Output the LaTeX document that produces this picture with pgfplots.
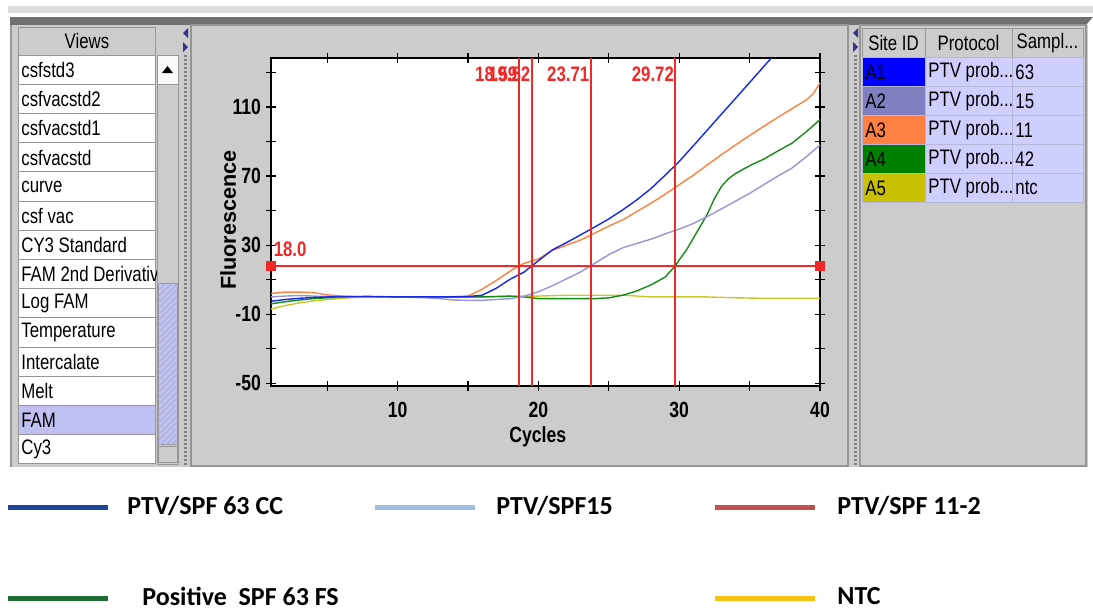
\documentclass[border=0pt]{standalone}
\usepackage{fontspec}
\setmainfont{Liberation Sans}
\newfontfamily\ui[FakeStretch=0.8]{Liberation Sans}
\newfontfamily\leg{Carlito}
\usepackage{pgfplots}
\pgfplotsset{compat=1.18}
\usetikzlibrary{patterns}

\definecolor{topband}{RGB}{222,222,222}
\definecolor{darkbar}{RGB}{112,112,112}
\definecolor{panel}{RGB}{204,204,204}
\definecolor{rowline}{RGB}{150,150,150}
\definecolor{sel}{RGB}{192,192,242}
\definecolor{lav}{RGB}{206,206,255}
\definecolor{navy}{RGB}{50,50,140}
\definecolor{sA1}{RGB}{0,0,255}
\definecolor{sA2}{RGB}{128,128,192}
\definecolor{sA3}{RGB}{255,128,64}
\definecolor{sA4}{RGB}{0,128,0}
\definecolor{sA5}{RGB}{200,192,0}
\definecolor{pblue}{RGB}{20,40,230}
\definecolor{plav}{RGB}{150,150,215}
\definecolor{porange}{RGB}{255,130,60}
\definecolor{pgreen}{RGB}{20,140,20}
\definecolor{pyellow}{RGB}{200,200,40}
\definecolor{ctred}{RGB}{240,40,40}
\definecolor{legblue}{RGB}{30,70,160}
\definecolor{leglight}{RGB}{160,190,225}
\definecolor{legred}{RGB}{192,80,77}
\definecolor{leggreen}{RGB}{30,110,50}
\definecolor{legyellow}{RGB}{245,195,20}

% amplification curves
\pgfplotstableread{
x y
1 -2.5
2 -1.5
3 -0.8
4 -0.3
5 0
6 0.2
8 0.3
10 0
12 0
14 0
15 0.2
16 1
17 5
18 10.3
19 14.5
19.52 18
20 21
21 27.3
22 31.5
23 36
24 40.5
25 45.2
26 50.5
27 56.3
28 62.8
29 70.5
30 78.5
31 87.5
32 96.7
33 105.9
34 115
35 124.2
36 133.4
36.54 138.4
}\blueA
\pgfplotstableread{
x y
1 0
2 0.5
3 0.8
4 0.5
5 0.2
6 0
8 0
10 0
12 -0.5
13 -1
14 -1.8
15 -2
16 -2
17 -1.5
18 -1
19 0.5
20 3
21 6.5
22 10.5
23 14.5
23.71 18
24 19.5
25 24.5
26 28.5
27 31
28 33.5
29 36.5
30 39.3
31 42.5
32 46.6
33 51
34 55.5
35 60
36 65
37 70
38 74.6
39 81
40 88
}\lavA
\pgfplotstableread{
x y
1 2
2 2.8
3 2.8
4 2.5
5 1.2
6 0.5
7 0.2
9 0
11 0
13 0
14 0.2
15 0.5
16 4.5
17 9.5
18 15
18.59 18
19 19.5
20 22
21 27
22 30
23 33
24 37
25 41
26 44.7
27 49.5
28 54.3
29 59.5
30 65
31 70.5
32 76.5
33 82.4
34 88
35 93.5
36 98.8
37 104
38 109
39 114
39.5 117.5
40 124
}\orangeA
\pgfplotstableread{
x y
1 -4
2 -2.8
3 -1.8
4 -1
5 -0.5
6 -0.2
8 0
10 0
12 0
14 0
16 0
18 0.5
19 0
20 -1
22 -1
24 -1
25 -0.5
26 1
27 3.5
28 7
29 11.5
29.72 18
30 21.5
30.5 27
31 34
31.5 41
32 48
32.5 57
33 64
33.5 68.5
34 71.5
35 76
36 79.8
37 84.5
38 89
39 95.5
40 102.7
}\greenA
\pgfplotstableread{
x y
1 -7
2 -5
3 -3.5
4 -2.3
5 -1.5
6 -0.8
7 -0.3
8 0
12 0
16 0
20 0.5
22 1
26 1
28 0
32 0
34 -0.5
36 -0.8
40 -0.8
}\yellowA

\begin{document}
\begin{tikzpicture}
% ---------- window (pixel coordinates, y down) ----------
\begin{scope}[x=0.5pt,y=-0.5pt]
\fill[white] (0,0) rectangle (1093,611);
\fill[topband] (8,6) rectangle (1093,13);
\fill[darkbar] (10,17) -- (1093,17) -- (1086,25) -- (10,25) -- cycle;
\fill[panel] (10,25) rectangle (1088,467);
\draw[rowline, line width=1pt] (11,25) -- (11,467);

% views list
\draw[rowline, fill=panel] (18,27) rectangle (155,55);
\node[font=\ui\fontsize{10.5}{12}\selectfont] at (87,41) {Views};
\foreach \t [count=\i from 0] in {csfstd3,csfvacstd2,csfvacstd1,csfvacstd,curve,csf vac,CY3 Standard,FAM 2nd Derivativ,Log FAM,Temperature,Intercalate,Melt,FAM,Cy3}{
  \ifnum\i=12 \def\rowfill{sel}\else\def\rowfill{white}\fi
  \draw[rowline, fill=\rowfill] (18,{55+29.2*\i}) rectangle (155,{55+29.2*(\i+1)});
  \node[anchor=west, inner sep=0pt, font=\ui\fontsize{10.5}{12}\selectfont] at (21,{55+29.2*\i+15}) {\t};
}
% scrollbar
\draw[rowline, fill=panel] (157,55) rectangle (178,464);
\draw[rowline, fill=white!90!panel] (157,55) rectangle (178,84);
\fill[black] (162,73) -- (173,73) -- (167.5,66) -- cycle;
\draw[rowline, fill=sel] (158,283) rectangle (177,444);
\fill[pattern=north east lines, pattern color=navy!40] (158,283) rectangle (177,444);
\draw[rowline, fill=panel] (158,446) rectangle (177,462);

% splitters
\foreach \sx in {185.5,855.5}{
  \draw[gray, dash pattern=on 1pt off 1pt, line width=1.5pt] (\sx,55) -- (\sx,466);
  \fill[navy] (\sx+2.5,28) -- (\sx+2.5,38) -- (\sx-2.5,33) -- cycle;
  \fill[navy] (\sx-2.5,42) -- (\sx-2.5,52) -- (\sx+2.5,47) -- cycle;
}
% chart panel
\draw[rowline, line width=1pt] (191,25) rectangle (848,466);

% sample table
\draw[rowline, line width=1pt] (860,25) rectangle (1086,466);
\draw[rowline, fill=panel] (862,28) rectangle (925,57);
\draw[rowline, fill=panel] (925,28) rectangle (1012,57);
\draw[rowline, fill=panel] (1012,28) rectangle (1083,57);
\node[font=\ui\fontsize{10.5}{12}\selectfont] at (893.5,43) {Site ID};
\node[font=\ui\fontsize{10.5}{12}\selectfont] at (968.5,43) {Protocol};
\node[font=\ui\fontsize{10.5}{12}\selectfont] at (1047.5,43) {Sampl...};
\foreach \c/\s [count=\i from 0] in {sA1/63,sA2/15,sA3/11,sA4/42,sA5/ntc}{
  \draw[lav!70!gray, fill=\c] (862,{57+29*\i}) rectangle (925,{57+29*(\i+1)});
  \draw[lav!70!gray, fill=lav] (925,{57+29*\i}) rectangle (1012,{57+29*(\i+1)});
  \draw[lav!70!gray, fill=lav] (1012,{57+29*\i}) rectangle (1083,{57+29*(\i+1)});
  \pgfmathtruncatemacro\k{\i+1}
  \node[anchor=west, inner sep=0pt, font=\ui\fontsize{10.5}{12}\selectfont] at (865,{57+29*\i+15}) {A\k};
  \node[anchor=west, inner sep=0pt, font=\ui\fontsize{10.5}{12}\selectfont] at (928,{57+29*\i+15}) {PTV prob...};
  \node[anchor=west, inner sep=0pt, font=\ui\fontsize{10.5}{12}\selectfont] at (1015,{57+29*\i+15}) {\s};
}
\end{scope}

% ---------- amplification plot ----------
\begin{axis}[
  at={(135.5pt,-193pt)}, anchor=south west,
  scale only axis, width=274.5pt, height=164pt,
  xmin=1, xmax=40, ymin=-51.6, ymax=138.4,
  axis background/.style={fill=white},
  axis line style={black, line width=1pt},
  xtick={10,20,30,40}, minor xtick={5,15,25,35},
  ytick={-50,-10,30,70,110}, minor ytick={-30,10,50,90,130},
  tick align=center, major tick length=5pt, minor tick length=5pt,
  tick style={black, line width=0.6pt},
  /pgf/number format/assume math mode=true,
  ticklabel style={font=\ui\bfseries\fontsize{11}{12}\selectfont},
  xticklabel style={yshift=-2pt},
  yticklabel style={xshift=1pt},
  xlabel={Cycles}, ylabel={Fluorescence},
  xlabel style={font=\ui\bfseries\fontsize{11}{12}\selectfont, at={(axis description cs:0.486,-0.155)}, anchor=center},
  ylabel style={font=\bfseries\fontsize{10.8}{12}\selectfont, at={(axis description cs:-0.078,0.506)}, anchor=center},
  clip=false,
]
\addplot[pyellow, line width=0.7pt] table {\yellowA};
\addplot[pgreen, line width=0.7pt] table {\greenA};
\addplot[plav, line width=0.7pt] table {\lavA};
\addplot[porange, line width=0.7pt] table {\orangeA};
\addplot[pblue, line width=0.7pt] table {\blueA};
% threshold and Ct lines
\addplot[ctred, line width=0.9pt] coordinates {(1,18) (40,18)};
\addplot[only marks, mark=square*, mark size=2.2pt, ctred] coordinates {(1,18) (40,18)};
\addplot[ctred, line width=0.9pt] coordinates {(18.59,-51.6) (18.59,138.4)};
\addplot[ctred, line width=0.9pt] coordinates {(19.52,-51.6) (19.52,138.4)};
\addplot[ctred, line width=0.9pt] coordinates {(23.71,-51.6) (23.71,138.4)};
\addplot[ctred, line width=0.9pt] coordinates {(29.72,-51.6) (29.72,138.4)};
\node[anchor=east, inner sep=0.5pt, text=ctred, font=\ui\bfseries\fontsize{10.5}{12}\selectfont] at (axis cs:18.59,128.7) {18.59};
\node[anchor=east, inner sep=0.5pt, text=ctred, font=\ui\bfseries\fontsize{10.5}{12}\selectfont] at (axis cs:19.52,128.7) {19.52};
\node[anchor=east, inner sep=0.5pt, text=ctred, font=\ui\bfseries\fontsize{10.5}{12}\selectfont] at (axis cs:23.71,128.7) {23.71};
\node[anchor=east, inner sep=0.5pt, text=ctred, font=\ui\bfseries\fontsize{10.5}{12}\selectfont] at (axis cs:29.72,128.7) {29.72};
\node[anchor=west, inner sep=0.5pt, text=ctred, font=\ui\bfseries\fontsize{10.5}{12}\selectfont] at (axis cs:1.1,27.5) {18.0};
\end{axis}

% ---------- legend below the screenshot ----------
\begin{scope}[x=0.5pt,y=-0.5pt, font=\leg\bfseries\fontsize{13}{15}\selectfont]
\draw[legblue, line width=2.5pt] (8,507) -- (108,507);
\node[anchor=west, inner sep=0pt] at (127,506) {PTV/SPF 63 CC};
\draw[leglight, line width=2.5pt] (375,507) -- (475,507);
\node[anchor=west, inner sep=0pt] at (496,506) {PTV/SPF15};
\draw[legred, line width=2.5pt] (715,507) -- (815,507);
\node[anchor=west, inner sep=0pt] at (837,506) {PTV/SPF 11-2};
\draw[leggreen, line width=2.5pt] (8,598) -- (108,598);
\node[anchor=west, inner sep=0pt] at (142,596) {Positive\ \ SPF 63 FS};
\draw[legyellow, line width=2.5pt] (715,598) -- (815,598);
\node[anchor=west, inner sep=0pt] at (837,596) {NTC};
\end{scope}
\end{tikzpicture}
\end{document}
